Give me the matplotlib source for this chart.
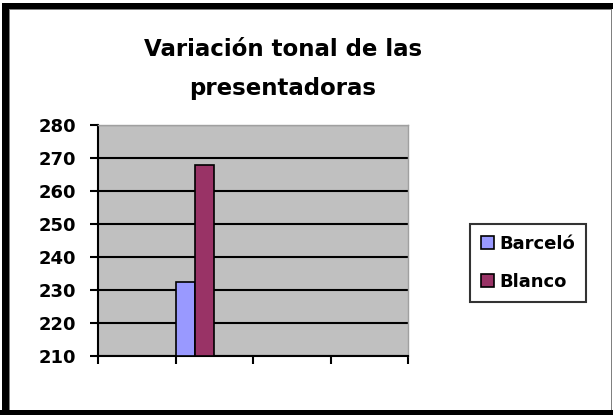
import matplotlib.pyplot as plt
from matplotlib.patches import Rectangle

# data
series = ['Barceló', 'Blanco']
values = [232.5, 268]
colors = ['#9999FF', '#993366']
yticks = [210, 220, 230, 240, 250, 260, 270, 280]

W, H = 613, 415
fig = plt.figure(figsize=(W / 100, H / 100), dpi=100)
fig.patch.set_facecolor('white')

# frame around the picture (pixel coords -> figure fraction)
def px_rect(x0, y0, x1, y1, color):
    fig.add_artist(Rectangle((x0 / W, 1 - y1 / H), (x1 - x0) / W, (y1 - y0) / H,
                             transform=fig.transFigure, facecolor=color,
                             edgecolor='none', zorder=10))

px_rect(2, 3, W, 9, 'black')        # top
px_rect(2, 3, 9, 411, 'black')      # left
px_rect(0, 410, W, H, 'black')      # bottom
px_rect(9, 9, W - 1, 10, '#808080')
px_rect(9, 9, 10, 410, '#808080')
px_rect(W - 2, 9, W - 1, 410, '#808080')

ax = fig.add_axes([98 / W, 1 - 356 / H, 310 / W, 231 / H])
ax.set_facecolor('#C0C0C0')

# 4 category slots, the bars sit at the start of the second one
bw = 0.25
for i, (name, v, c) in enumerate(zip(series, values, colors)):
    ax.bar(1 + i * bw, v - 210, bottom=210, width=bw, align='edge',
           color=c, edgecolor='black', linewidth=1.2, label=name, zorder=3)

ax.set_xlim(0, 4)
ax.set_ylim(210, 280)
ax.set_yticks(yticks)
ax.set_xticks([0, 1, 2, 3, 4])
ax.set_xticklabels([])
ax.yaxis.grid(True, color='black', linewidth=1.5)
ax.set_axisbelow(True)
ax.tick_params(axis='both', direction='out', length=6, width=1.5, color='black')
ax.tick_params(axis='y', labelsize=13, pad=10)
for lab in ax.get_yticklabels():
    lab.set_fontweight('bold')
for s in ['left', 'bottom']:
    ax.spines[s].set_linewidth(1.5)
    ax.spines[s].set_color('black')
for s in ['top', 'right']:
    ax.spines[s].set_color('#A0A0A0')
    ax.spines[s].set_linewidth(1)

fig.text(283 / W, 1 - 50 / H, 'Variación tonal de las', ha='center', va='center',
         fontsize=16.5, fontweight='bold')
fig.text(283 / W, 1 - 88 / H, 'presentadoras', ha='center', va='center',
         fontsize=16.5, fontweight='bold')

leg = fig.legend(loc='center', bbox_to_anchor=(528 / W, 1 - 263 / H),
                 prop={'weight': 'bold', 'size': 13}, frameon=True, fancybox=False,
                 handlelength=0.7, handleheight=0.7, handletextpad=0.3,
                 labelspacing=1.1, borderpad=0.6, borderaxespad=0)
leg.get_frame().set_edgecolor('black')
leg.get_frame().set_linewidth(1.5)

fig.savefig('out.png', dpi=100)
